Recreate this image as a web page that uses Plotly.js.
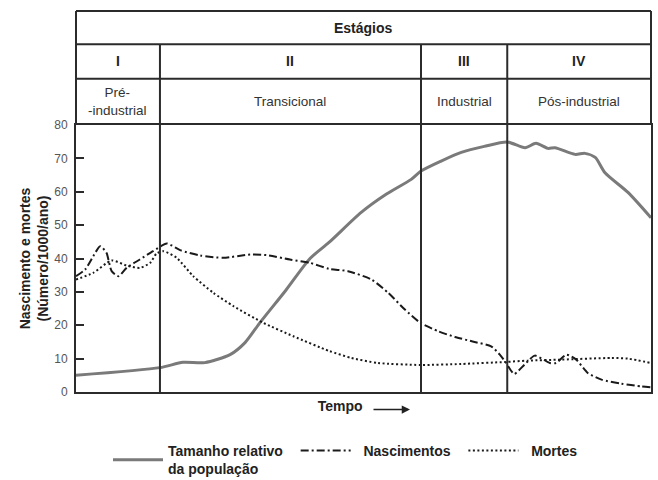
<!DOCTYPE html>
<html>
<head>
<meta charset="utf-8">
<script src="https://cdn.plot.ly/plotly-3.0.1.min.js"></script>
<style>html,body{margin:0;padding:0;background:#fff;}#chart{width:658px;height:480px;}</style>
</head>
<body>
<div id="chart"></div>
<script>
// ---- data (time in arbitrary units 0..100) ----
var timePop = [0, 14.6, 18.6, 22.4, 26.8, 29.4, 32, 36.5, 40.7, 44, 49.6, 54, 58.3, 60, 63.5, 67, 71, 75, 78.1, 80, 82.1, 83.3, 86.8, 88.5, 90.3, 92, 96, 100];
var population = [5, 7.3, 8.9, 8.8, 11.2, 14.8, 20.8, 30.5, 40, 44.8, 53.8, 59.3, 63.7, 66.2, 69.2, 71.8, 73.6, 74.9, 73.2, 74.5, 73, 73.2, 71.2, 71.5, 70.3, 65.7, 59.8, 52.2];

var timeBirth = [0, 1.6, 3, 4.2, 5.3, 6.2, 7.4, 8.8, 11.1, 13.4, 15.8, 18.1, 21.6, 25.6, 30.3, 33.2, 37.2, 40.7, 44, 47.3, 51.4, 54.3, 57.2, 59.9, 63, 65.9, 69.3, 72.2, 73.7, 74.8, 76.2, 78, 79.8, 82.4, 83.5, 85.3, 87, 89, 91.4, 94.8, 98.3, 100];
var births = [34.7, 36.7, 40.7, 43.7, 41.7, 36.2, 34.7, 37.2, 39.7, 42.2, 44.5, 42.5, 40.9, 40.2, 41.2, 41, 39.7, 38.7, 36.9, 36.2, 33.7, 29.7, 24.7, 20.7, 18.2, 16.5, 15, 13.7, 11.2, 8.7, 5.4, 8.2, 10.9, 8.7, 8.7, 11.2, 9.7, 5.7, 3.7, 2.5, 1.7, 1.4];

var timeDeath = [0, 3, 6.2, 8.8, 11.1, 12.9, 14, 15.2, 17.5, 20.4, 23.9, 27.4, 32.6, 37.8, 44, 47.9, 52.5, 59.9, 67, 74.6, 78.6, 84.4, 93.1, 96, 100];
var deaths = [33.7, 35.7, 39.4, 37.9, 37.2, 38.7, 41.5, 42.2, 40.2, 34.7, 29.7, 25.7, 20.7, 16.7, 12.3, 10.2, 8.7, 8.1, 8.4, 9, 9.4, 9.7, 10.2, 10, 8.7];

var seriesNames = ['Tamanho relativo&nbsp;&nbsp;<br>da população', '&nbsp;&nbsp;Nascimentos&nbsp;&nbsp;', '&nbsp;&nbsp;Mortes'];

var stageBounds = [14.6, 60, 75];
var stageNumerals = ['I', 'II', 'III', 'IV'];
var stageNames = ['Pré-<br>-industrial', 'Transicional', 'Industrial', 'Pós-industrial'];
var headerTitle = 'Estágios';
var yTitle = 'Nascimento e mortes<br>(Número/1000/ano)';
var xTitle = 'Tempo';

// ---- layout helpers ----
var X0 = 0, X1 = 100;
var FONT = 'Liberation Sans, Arial, Helvetica, sans-serif';
var INK = '#2b2b2b';
var plotTopPx = 125, plotBotPx = 392;
function py(px) { return (plotBotPx - px) / (plotBotPx - plotTopPx); }
function px2(t) { return (t - X0) / (X1 - X0); }
var yTop = py(11), yRow1 = py(44.3), yRow2 = py(78.7);

var edges = [X0].concat(stageBounds).concat([X1]);
var shapes = [];
var annotations = [];
var lineStyle = {color: INK, width: 2};
// header horizontal lines
[yTop, yRow1, yRow2].forEach(function (yy) {
  shapes.push({type: 'line', xref: 'paper', yref: 'paper', x0: 0, x1: 1, y0: yy, y1: yy, line: lineStyle});
});
// header side borders
[0, 1].forEach(function (xx) {
  shapes.push({type: 'line', xref: 'paper', yref: 'paper', x0: xx, x1: xx, y0: 1, y1: yTop, line: lineStyle});
});
// stage dividers
stageBounds.forEach(function (b) {
  shapes.push({type: 'line', xref: 'paper', yref: 'paper', x0: px2(b), x1: px2(b), y0: 0, y1: yRow1, line: lineStyle});
});

annotations.push({xref: 'paper', yref: 'paper', x: 0.5, y: (yTop + yRow1) / 2, text: '<b>' + headerTitle + '</b>',
  showarrow: false, font: {family: FONT, size: 14, color: '#222'}, xanchor: 'center', yanchor: 'middle'});
for (var i = 0; i < stageNumerals.length; i++) {
  var c = px2((edges[i] + edges[i + 1]) / 2);
  annotations.push({xref: 'paper', yref: 'paper', x: c, y: (yRow1 + yRow2) / 2, text: '<b>' + stageNumerals[i] + '</b>',
    showarrow: false, font: {family: FONT, size: 14, color: '#222'}, xanchor: 'center', yanchor: 'middle'});
  annotations.push({xref: 'paper', yref: 'paper', x: c, y: (yRow2 + 1) / 2, text: stageNames[i],
    showarrow: false, font: {family: FONT, size: 13.5, color: '#333'}, xanchor: 'center', yanchor: 'middle'});
}
// arrow after "Tempo"
annotations.push({xref: 'paper', yref: 'paper', x: (410 - 76) / 575, y: py(409.5), ax: -38, ay: 0, text: '',
  showarrow: true, arrowhead: 2, arrowsize: 1.1, arrowwidth: 1.5, arrowcolor: '#222'});

var nb = '';
for (var k = 0; k < 12; k++) nb += '&nbsp;';

var traces = [
  {x: timePop, y: population, name: seriesNames[0], mode: 'lines',
    line: {color: '#7a7a7a', width: 3, shape: 'spline', smoothing: 0.7}},
  {x: timeBirth, y: births, name: seriesNames[1], mode: 'lines',
    line: {color: '#1a1a1a', width: 2, dash: '8px,3px,2px,3px', shape: 'spline', smoothing: 0.6}},
  {x: timeDeath, y: deaths, name: seriesNames[2], mode: 'lines',
    line: {color: '#1a1a1a', width: 2, dash: '2px,2.5px', shape: 'spline', smoothing: 0.6}}
];

var layout = {
  width: 658, height: 480,
  margin: {l: 76, r: 7, t: plotTopPx, b: 480 - plotBotPx, pad: 0, autoexpand: false},
  paper_bgcolor: '#fff', plot_bgcolor: '#fff',
  font: {family: FONT, color: '#222'},
  showlegend: true,
  legend: {orientation: 'h', x: (108 - 76) / 575, xanchor: 'left', y: py(460), yanchor: 'middle',
    font: {family: FONT, size: 14, color: '#222', weight: 'bold'}, itemwidth: 50, bgcolor: 'rgba(0,0,0,0)'},
  xaxis: {range: [X0, X1], showticklabels: false, ticks: '', showgrid: false, zeroline: false,
    showline: true, mirror: true, linecolor: INK, linewidth: 2,
    title: {text: '<b>' + xTitle + '</b>' + nb, font: {family: FONT, size: 14, color: '#222'}, standoff: 8}},
  yaxis: {range: [0, 80], dtick: 10, tick0: 0, ticks: 'inside', ticklen: 8, tickwidth: 2, tickcolor: INK,
    showgrid: false, zeroline: false, showline: true, mirror: true, linecolor: INK, linewidth: 2,
    tickfont: {family: FONT, size: 12, color: '#555'}, ticklabelstandoff: 4,
    title: {text: '<b>' + yTitle + '</b>', font: {family: FONT, size: 14, color: '#222'}, standoff: 2}},
  shapes: shapes,
  annotations: annotations
};

Plotly.newPlot('chart', traces, layout, {staticPlot: true, displayModeBar: false});
</script>
</body>
</html>
